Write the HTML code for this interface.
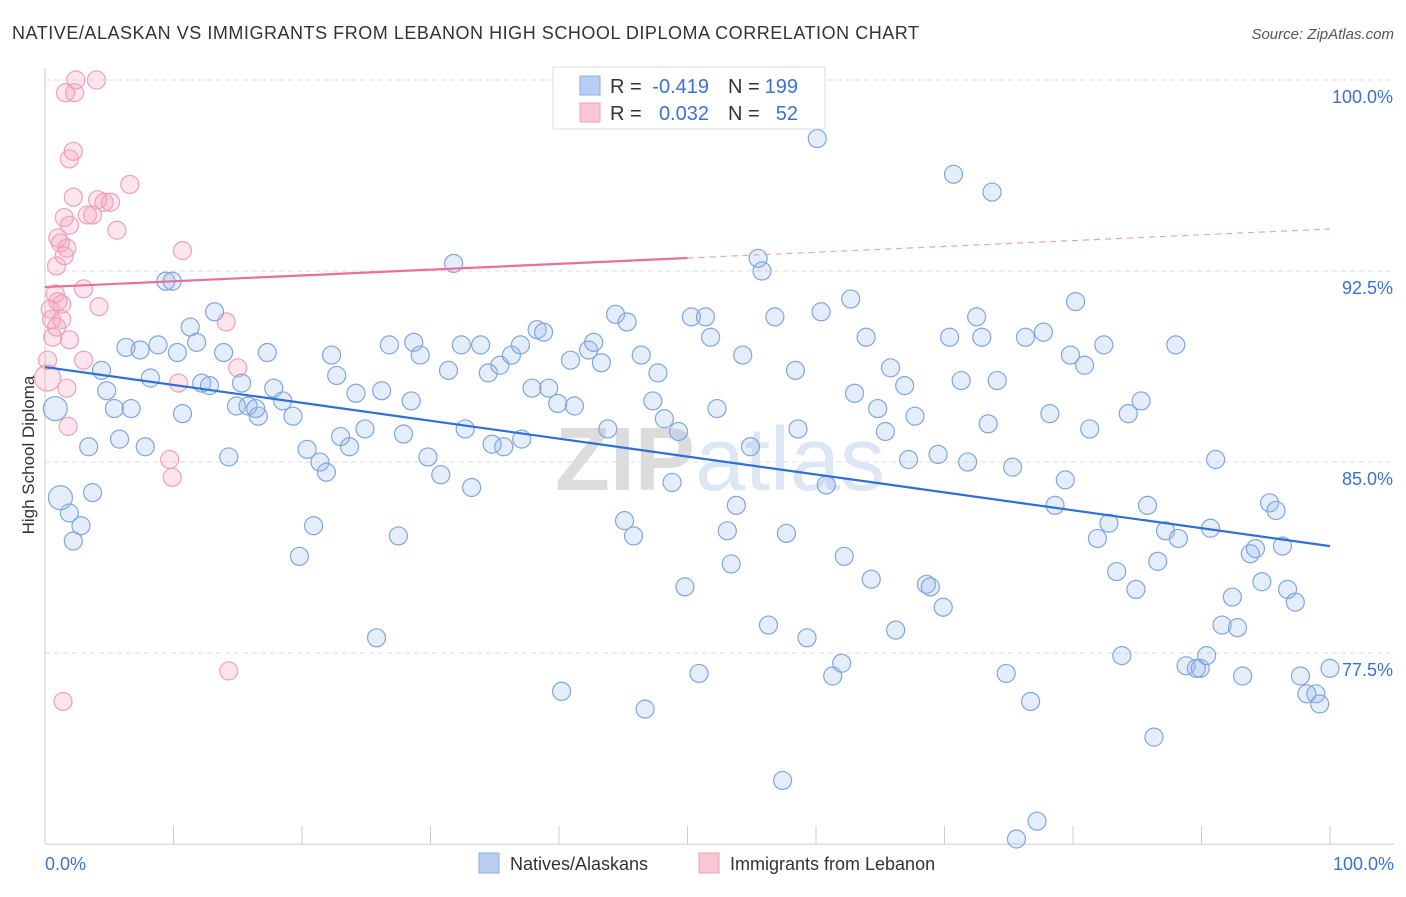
<!DOCTYPE html>
<html><head><meta charset="utf-8"><style>
body{margin:0;background:#fff;font-family:"Liberation Sans",sans-serif;}
svg text{font-family:"Liberation Sans",sans-serif;}
</style></head><body>
<svg id="chart" width="1406" height="892" xmlns="http://www.w3.org/2000/svg">
<text x="12" y="39" font-size="18" fill="#333" textLength="907" lengthAdjust="spacing">NATIVE/ALASKAN VS IMMIGRANTS FROM LEBANON HIGH SCHOOL DIPLOMA CORRELATION CHART</text>
<text x="1394" y="39" font-size="15" fill="#555" text-anchor="end" font-style="italic">Source: ZipAtlas.com</text>
<g id="grid"></g>
<text x="720" y="490" font-size="90" text-anchor="middle" fill="#e6e6e6" font-family="Liberation Serif"><tspan fill="#dcdcdc" font-weight="bold">ZIP</tspan><tspan fill="#dde6f3" font-family="Liberation Sans">atlas</tspan></text>
<g id="axes"></g>
<g id="pinkpts"></g>
<g id="bluepts"></g>
<g id="trends"></g>
<text transform="translate(34,455) rotate(-90)" font-size="17" fill="#333" text-anchor="middle">High School Diploma</text>
<g>
<rect x="553" y="67" width="272" height="62" fill="#fff" stroke="#ddd"/>
<rect x="580" y="76" width="20" height="19" fill="#b8cdf0" stroke="#8aaee6"/>
<rect x="580" y="103" width="20" height="19" fill="#f9c6d4" stroke="#f0a0b8"/>
<text x="610" y="93" font-size="20" fill="#333">R =</text>
<text x="709" y="93" font-size="20" fill="#3a72d4" text-anchor="end">-0.419</text>
<text x="728" y="93" font-size="20" fill="#333">N =</text>
<text x="798" y="93" font-size="20" fill="#3a72d4" text-anchor="end">199</text>
<text x="610" y="120" font-size="20" fill="#333">R =</text>
<text x="709" y="120" font-size="20" fill="#3a72d4" text-anchor="end">0.032</text>
<text x="728" y="120" font-size="20" fill="#333">N =</text>
<text x="798" y="120" font-size="20" fill="#3a72d4" text-anchor="end">52</text>
</g>
<g>
<rect x="479" y="853" width="20" height="20" fill="#b8cdf0" stroke="#8aaee6"/>
<text x="510" y="870" font-size="18" fill="#333">Natives/Alaskans</text>
<rect x="699" y="853" width="20" height="20" fill="#f9c6d4" stroke="#f0a0b8"/>
<text x="730" y="870" font-size="18" fill="#333">Immigrants from Lebanon</text>
</g>
</svg>
<script>
const yTicks=[100,92.5,85,77.5];
const yTickLabels=["100.0%","92.5%","85.0%","77.5%"];
const xTickLabels=["0.0%","100.0%"];
const blueX=[60.1,70.7,73.7,31.8,55.5,55.8,9.4,9.9,13.2,11.3,11.8,6.3,7.4,8.8,10.3,13.9,17.3,4.4,4.8,8.2,12.2,12.8,15.3,14.9,15.8,16.6,16.4,17.8,18.5,19.3,5.4,6.7,10.7,3.4,5.8,7.8,14.3,20.4,21.4,21.9,23.0,23.7,24.9,22.3,22.7,24.2,26.2,26.8,28.5,28.7,29.2,27.9,29.8,30.8,31.4,32.4,33.9,34.5,35.4,36.3,37.0,38.3,38.8,32.7,33.2,34.8,35.7,37.1,37.9,39.2,39.9,41.2,40.9,42.3,42.7,43.3,43.8,44.4,45.3,46.4,47.7,47.3,48.2,49.3,48.8,50.3,51.4,51.8,52.3,54.3,54.9,53.8,53.1,53.4,45.1,45.8,49.8,50.9,46.7,40.2,56.3,57.4,56.8,58.4,58.6,57.7,60.4,60.8,62.2,63.0,63.9,62.7,64.8,65.4,65.8,66.9,67.7,64.3,66.2,59.3,61.3,62.0,68.6,68.9,69.9,67.2,69.5,70.4,71.3,71.8,72.5,72.9,74.1,73.4,75.3,76.3,77.7,78.2,79.4,80.2,79.8,80.9,81.3,82.4,78.6,81.9,82.8,83.4,84.3,85.3,85.8,84.9,86.6,87.2,88.0,88.2,90.7,91.1,83.8,88.8,89.6,89.9,90.4,86.3,76.7,74.8,75.6,77.2,92.4,91.6,92.8,93.2,93.8,94.2,94.7,95.3,95.8,96.3,96.7,97.3,97.7,98.2,98.9,99.2,100,25.8,27.5,20.9,19.8,2.2,1.9,2.8,3.7,1.2,0.8];
const blueY=[97.7,96.3,95.6,92.8,93.0,92.5,92.1,92.1,90.9,90.3,89.7,89.5,89.4,89.6,89.3,89.3,89.3,88.6,87.8,88.3,88.1,88.0,88.1,87.2,87.2,86.8,87.1,87.9,87.4,86.8,87.1,87.1,86.9,85.6,85.9,85.6,85.2,85.5,85.0,84.6,86.0,85.6,86.3,89.2,88.4,87.7,87.8,89.6,87.4,89.7,89.2,86.1,85.2,84.5,88.6,89.6,89.6,88.5,88.8,89.2,89.6,90.2,90.1,86.3,84.0,85.7,85.6,85.9,87.9,87.9,87.3,87.2,89.0,89.4,89.7,88.9,86.3,90.8,90.5,89.2,88.5,87.4,86.7,86.2,84.2,90.7,90.7,89.9,87.1,89.2,85.6,83.3,82.3,81.0,82.7,82.1,80.1,76.7,75.3,76.0,78.6,72.5,90.7,88.6,86.3,82.2,90.9,84.1,81.3,87.7,89.9,91.4,87.1,86.2,88.7,88.0,86.8,80.4,78.4,78.1,76.6,77.1,80.2,80.1,79.3,85.1,85.3,89.9,88.2,85.0,90.7,89.9,88.2,86.5,84.8,89.9,90.1,86.9,84.3,91.3,89.2,88.8,86.3,89.6,83.3,82.0,82.6,80.7,86.9,87.4,83.3,80.0,81.1,82.3,89.6,82.0,82.4,85.1,77.4,77.0,76.9,76.9,77.4,74.2,75.6,76.7,70.2,70.9,79.7,78.6,78.5,76.6,81.4,81.6,80.3,83.4,83.1,81.7,80.0,79.5,76.6,75.9,75.9,75.5,76.9,78.1,82.1,82.5,81.3,81.9,83.0,82.5,83.8,83.6,87.1];
const pinkX=[2.4,4.0,1.6,2.3,1.9,2.2,6.6,2.2,4.1,3.3,3.7,4.6,5.1,5.6,1.5,1.9,1.0,1.2,1.7,1.5,0.9,10.7,3.0,0.8,1.0,1.3,4.2,0.4,0.5,1.3,0.9,14.1,0.6,1.9,3.0,0.2,0.2,1.7,10.4,15.0,1.8,9.7,9.9,14.3,1.4];
const pinkY=[100.0,100.0,99.5,99.5,96.9,97.2,95.9,95.4,95.3,94.7,94.7,95.2,95.2,94.1,94.6,94.3,93.8,93.6,93.4,93.1,92.7,93.3,91.8,91.6,91.3,91.2,91.1,91.0,90.6,90.6,90.3,90.5,89.9,89.8,89.0,89.0,88.3,87.9,88.1,88.7,86.4,85.1,84.4,76.8,75.6];
const blueTrend=[88.73,81.7];
const pinkTrend=[91.87,94.15];
const X0=45,X1=1330,Y100=80,PXPER=25.47;
const sx=v=>X0+(X1-X0)*v/100;
const sy=v=>Y100+(100-v)*PXPER;
const NS="http://www.w3.org/2000/svg";
function mk(tag,attrs,parent){const e=document.createElementNS(NS,tag);for(const k in attrs)e.setAttribute(k,attrs[k]);parent.appendChild(e);return e;}
const grid=document.getElementById('grid'),axes=document.getElementById('axes');
yTicks.forEach((t,i)=>{
 const l=mk('line',{x1:45,x2:1394,y1:sy(t),y2:sy(t),stroke:'#ddd','stroke-dasharray':'5,4'},grid);
 
 
 const tx=mk('text',{x:1393,y:sy(t)+23,'font-size':18,fill:'#3a72d4','text-anchor':'end'},axes);
 tx.textContent=yTickLabels[i];
 
 
});
const ax=mk('line',{x1:45,x2:1394,y1:sy(70),y2:sy(70),stroke:'#ccc'},axes);


const ay=mk('line',{x1:45,x2:45,y1:68,y2:sy(70),stroke:'#ccc'},axes);


for(let i=1;i<=10;i++){const t=mk('line',{x1:sx(i*10),x2:sx(i*10),y1:sy(70)-18,y2:sy(70),stroke:'#ccc'},axes);
 
 }
[[45,'start',0],[1394,'end',1]].forEach(([x,a,i])=>{const t=mk('text',{x:x,y:870,'font-size':18,fill:'#3a72d4','text-anchor':a},axes);t.textContent=xTickLabels[i];
 
 });
const pg=document.getElementById('pinkpts'),bg=document.getElementById('bluepts');
pinkX.forEach((x,i)=>{const r=(i==36)?13:9;const c=mk('circle',{cx:sx(x),cy:sy(pinkY[i]),r:r,fill:'rgba(244,160,186,0.28)',stroke:'#f0a0b8','stroke-width':1.2},pg);
 
 });
blueX.forEach((x,i)=>{const r=(i>=193)?12:9;const c=mk('circle',{cx:sx(x),cy:sy(blueY[i]),r:r,fill:'rgba(150,185,235,0.25)',stroke:'#7fa6e0','stroke-width':1.2},bg);
 
 });
const tg=document.getElementById('trends');
const b=mk('line',{x1:sx(0),y1:sy(blueTrend[0]),x2:sx(100),y2:sy(blueTrend[1]),stroke:'#2f6fd8','stroke-width':2.2},tg);


const pm=pinkTrend[0]+(pinkTrend[1]-pinkTrend[0])*0.5;
const p1=mk('line',{x1:sx(0),y1:sy(pinkTrend[0]),x2:sx(50),y2:sy(pm),stroke:'#e8709a','stroke-width':2.2},tg);


const p2=mk('line',{x1:sx(50),y1:sy(pm),x2:sx(100),y2:sy(pinkTrend[1]),stroke:'#f0a0b8','stroke-width':1.2,'stroke-dasharray':'6,5'},tg);


</script>
</body></html>
